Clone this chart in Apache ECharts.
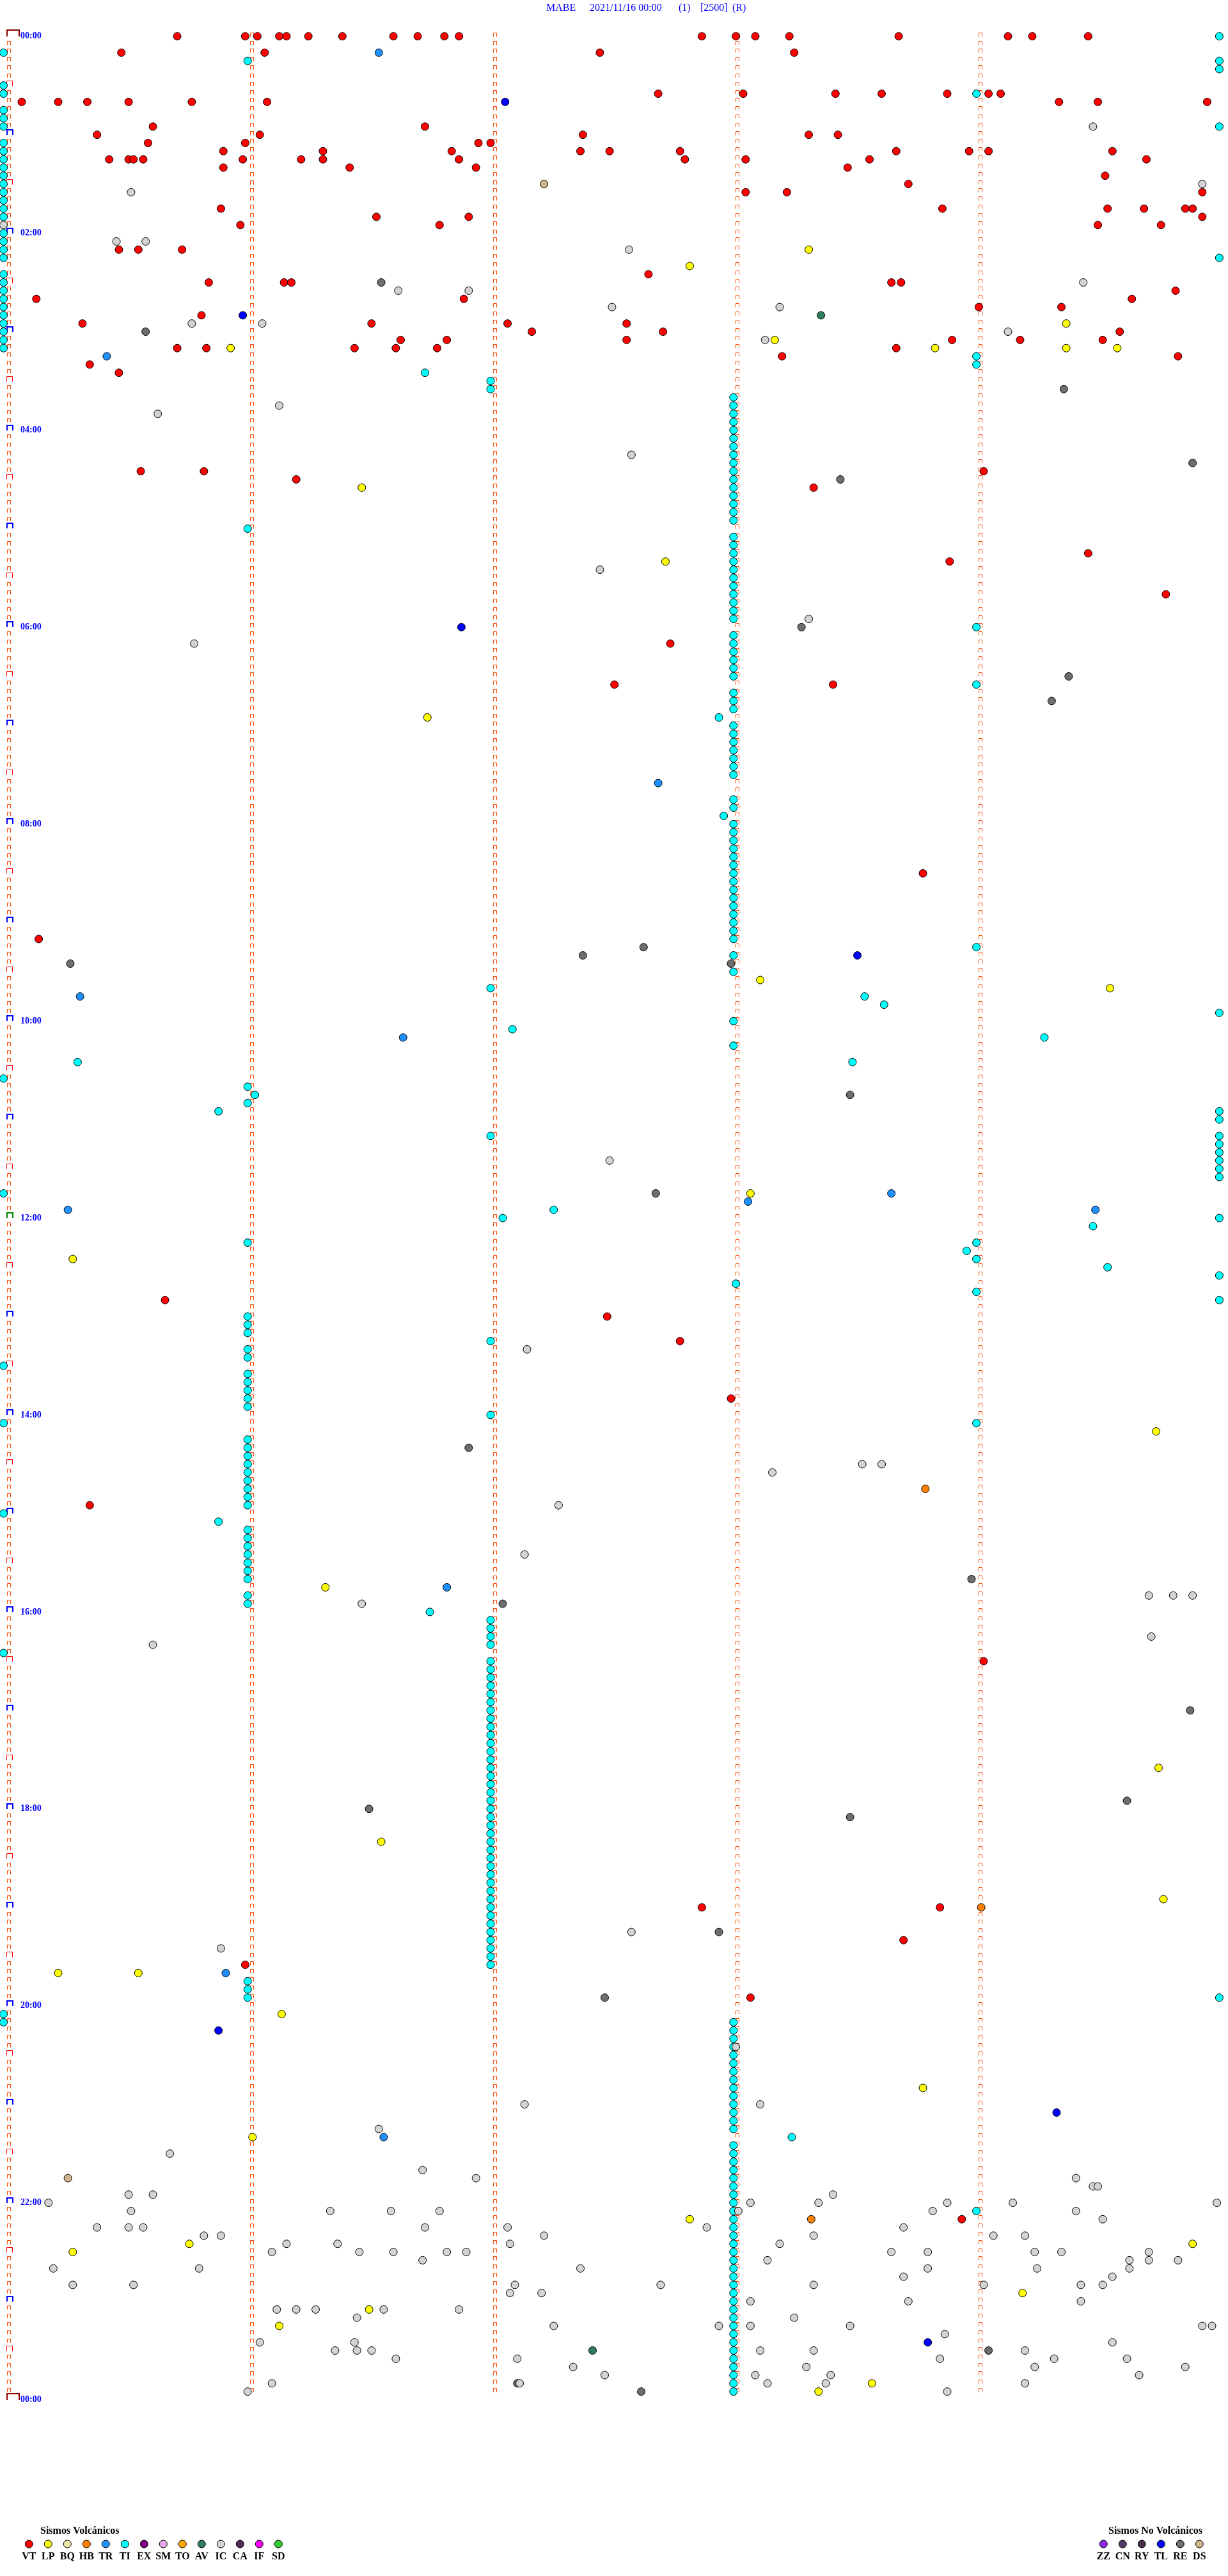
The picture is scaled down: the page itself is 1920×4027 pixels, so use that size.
<!DOCTYPE html>
<html><head><meta charset="utf-8">
<script src="https://cdn.jsdelivr.net/npm/echarts@6/dist/echarts.min.js"></script>
<style>html,body{margin:0;padding:0;background:#fff}#c{width:1920px;height:4027px}</style>
</head><body><div id="c"></div>
<script>
// Each event group: [row (5-minute line index from 00:00), minute offsets within the line...]
const VT = [
 [0,0.69,0.97,1.02,1.11,1.14,1.23,1.37,1.58,1.68,1.79,1.85,2.85,2.99,3.07,3.21,3.66,4.11,4.21,4.44],
 [2,0.46,1.05,2.43,3.23],[7,2.67,3.02,3.40,3.59,3.86,4.03,4.08],[8,0.05,0.20,0.32,0.49,0.75,1.06,4.32,4.48,4.93],
 [11,0.59,1.71],[12,0.36,1.03,2.36,3.29,3.41],[13,0.57,0.97,1.93,1.98],
 [14,0.88,1.29,1.82,2.35,2.47,2.76,3.65,3.95,4.03,4.54],[15,0.41,0.49,0.51,0.55,0.96,1.20,1.29,1.85,2.78,3.03,3.54,4.68],
 [16,0.88,1.40,1.92,3.45],[17,4.51],[18,3.70],[19,3.03,3.20,4.91],[21,0.87,3.84,4.52,4.67,4.84,4.87],
 [22,1.51,1.89,4.91],[23,0.95,1.77,4.48,4.74],[26,0.45,0.53,0.71],[29,2.63],[30,0.82,1.13,1.16,3.63,3.67],[31,4.80],
 [32,0.11,1.87,4.62],[33,3.99,4.33],[34,0.79],[35,0.30,1.49,2.05,2.54],[36,2.15,2.69,4.57],[37,1.61,1.80,2.54,3.88,4.16,4.50],
 [38,0.69,0.81,1.42,1.59,1.76,3.65],[39,3.18,4.81],[40,0.33],[41,0.45],[53,0.54,0.80,4.01],[54,1.18],[55,3.31],[63,4.44],
 [64,3.87],[68,4.76],[74,2.72],[79,2.49,3.39],[102,3.76],[110,0.12],[154,0.64],[156,2.46],[159,2.76],[166,2.97],[179,0.33],
 [198,4.01],[228,2.85,3.83],[232,3.68],[235,0.97],[239,3.05],[266,3.92]
];
const LP = [
 [26,3.29],[28,2.80],[35,4.35],[37,3.15],[38,0.91,3.81,4.35,4.56],[55,1.45],[64,2.70],[83,1.72],[115,3.09],[116,4.53],
 [141,3.05],[149,0.26],[170,4.72],[189,1.30],[211,4.73],[220,1.53],[227,4.75],[236,0.20,0.53],[241,1.12],[250,3.76],
 [256,1.00],[266,2.80],[269,0.74,4.87],[270,0.26],[275,4.17],[277,1.48],[279,1.11],[286,3.55],[287,3.33]
];
const HB = [[177,3.77],[228,4.00],[266,3.30]];
const TR = [[2,1.52],[39,0.40],[91,2.67],[117,0.29],[122,1.62],[141,3.63],[142,3.04],[143,0.24,4.47],[189,1.80],[236,0.89],[256,1.54]];
const AV = [[34,3.34],[282,2.40]];
const TL = [[8,2.04],[34,0.96],[72,1.86],[112,3.49],[243,0.86],[253,4.31],[281,3.78]];
const RE = [
 [30,1.53],[36,0.56],[43,4.34],[52,4.87],[54,3.42],[72,3.26],[78,4.36],[81,4.29],[111,2.61],[112,2.36],[113,0.25,2.97],
 [129,3.46],[141,2.66],[172,1.89],[188,3.96],[191,2.03],[204,4.86],[215,4.60],[216,1.48],[217,3.46],[231,2.92],[239,2.45],
 [282,4.03],[286,2.09],[287,2.60]
];
const DS = [[18,2.20],[261,0.24]];
const IC = [
 [11,4.46],[18,4.91],[19,0.50],[23,-0.025],[25,0.44,0.56],[26,2.55],[30,4.42],[31,1.60,1.89],[33,2.48,3.17],[35,0.75,1.04],
 [36,4.11],[37,3.11],[45,1.11],[46,0.61],[51,2.56],[65,2.43],[71,3.29],[74,0.76],[137,2.47],[160,2.13],[174,3.51,3.59],
 [175,3.14],[179,2.26],[185,2.12],[190,4.69,4.79,4.87],[191,1.45],[195,4.70],[196,0.59],[231,2.56],[233,0.87],[245,2.99],
 [252,2.12,3.09],[255,1.52],[258,0.66],[260,1.70],[261,1.92,4.39],[262,4.46,4.48],[263,0.49,0.59,3.39],
 [264,0.16,3.05,3.33,3.86,4.13,4.97],[265,0.50,1.32,1.57,1.77,3.00,3.80,4.39],[266,4.50],
 [267,0.36,0.49,0.55,1.71,2.05,2.87,3.68],[268,0.80,0.87,2.20,3.31,4.05,4.18],[269,1.14,1.35,2.06,3.17],
 [270,1.08,1.44,1.58,1.80,1.88,3.63,3.78,4.22,4.33,4.69],[271,1.70,3.12,4.61,4.69,4.81],[272,0.18,0.78,2.35,3.78,4.23,4.61],
 [273,3.68,4.54],[274,0.26,0.51,2.08,2.68,3.31,4.01,4.41,4.50],[275,2.06,2.19],[276,3.05,3.70,4.41],
 [277,1.10,1.18,1.26,1.54,1.85],[278,1.43,3.23],[279,2.24,2.92,3.05,3.46,4.91,4.95],[280,3.85],[281,1.03,1.42,4.54],
 [282,1.34,1.43,1.49,3.09,3.31,4.18],[283,1.59,2.09,3.83,4.30,4.60],[284,2.32,3.28,4.22,4.84],[285,2.45,3.07,3.38,4.65],
 [286,1.08,2.10,3.12,3.36,4.18],[287,0.98,3.86]
];
const TI = [
 [0,4.98],[2,-0.025],[3,0.98,4.98],[4,4.98],[6,-0.025],[7,-0.025,3.98],[9,-0.025],[10,-0.025],[11,-0.025,4.98],
 [13,-0.025],[14,-0.025],[15,-0.025],[16,-0.025],[17,-0.025],[18,-0.025],[19,-0.025],[20,-0.025],[21,-0.025],[22,-0.025],
 [24,-0.025],[25,-0.025],[26,-0.025],[27,-0.025,4.98],[29,-0.025],[30,-0.025],[31,-0.025],[32,-0.025],[33,-0.025],
 [34,-0.025],[35,-0.025],[36,-0.025],[37,-0.025],[38,-0.025],[39,3.98],[40,3.98],[41,1.71],[42,1.98],[43,1.98],
 [44,2.98],[45,2.98],[46,2.98],[47,2.98],[48,2.98],[49,2.98],[50,2.98],[51,2.98],[52,2.98],[53,2.98],[54,2.98],[55,2.98],
 [56,2.98],[57,2.98],[58,2.98],[59,2.98],[60,0.98],[61,2.98],[62,2.98],[63,2.98],[64,2.98],[65,2.98],[66,2.98],[67,2.98],
 [68,2.98],[69,2.98],[70,2.98],[71,2.98],[72,3.98],[73,2.98],[74,2.98],[75,2.98],[76,2.98],[77,2.98],[78,2.98],[79,3.98],
 [80,2.98],[81,2.98],[82,2.98],[83,2.92],[84,2.98],[85,2.98],[86,2.98],[87,2.98],[88,2.98],[89,2.98],[90,2.98],
 [93,2.98],[94,2.98],[95,2.94],[96,2.98],[97,2.98],[98,2.98],[99,2.98],[100,2.98],[101,2.98],[102,2.98],[103,2.98],
 [104,2.98],[105,2.98],[106,2.98],[107,2.98],[108,2.98],[109,2.98],[110,2.98],[111,3.98],[112,2.98],[114,2.98],
 [116,1.98],[117,3.52],[118,3.60],[119,4.98],[120,2.98],[121,2.07],[122,4.26],[123,2.98],[125,0.28,3.47],[127,-0.025],
 [128,0.98],[129,1.01],[130,0.98],[131,0.86,4.98],[132,4.98],[134,1.98,4.98],[135,4.98],[136,4.98],[137,4.98],[138,4.98],
 [139,4.98],[141,-0.025],[143,2.24],[144,2.03,4.98],[145,4.46],[147,0.98,3.98],[148,3.94],[149,3.98],[150,4.52],[151,4.98],
 [152,2.99],[153,3.98],[154,4.98],[156,0.98],[157,0.98],[158,0.98],[159,1.98],[160,0.98],[161,0.98],[162,-0.025],
 [163,0.98],[164,0.98],[165,0.98],[166,0.98],[167,0.98],[168,1.98],[169,-0.025,3.98],[171,0.98],[172,0.98],[173,0.98],
 [174,0.98],[175,0.98],[176,0.98],[177,0.98],[178,0.98],[179,0.98],[180,-0.025],[181,0.86],[182,0.98],[183,0.98],
 [184,0.98],[185,0.98],[186,0.98],[187,0.98],[188,0.98],[190,0.98],[191,0.98],[192,1.73],[193,1.98],[194,1.98],[195,1.98],
 [196,1.98],[197,-0.025],[198,1.98],[199,1.98],[200,1.98],[201,1.98],[202,1.98],[203,1.98],[204,1.98],[205,1.98],
 [206,1.98],[207,1.98],[208,1.98],[209,1.98],[210,1.98],[211,1.98],[212,1.98],[213,1.98],[214,1.98],[215,1.98],[216,1.98],
 [217,1.98],[218,1.98],[219,1.98],[220,1.98],[221,1.98],[222,1.98],[223,1.98],[224,1.98],[225,1.98],[226,1.98],[227,1.98],
 [228,1.98],[229,1.98],[230,1.98],[231,1.98],[232,1.98],[233,1.98],[234,1.98],[235,1.98],[237,0.98],[238,0.98],
 [239,0.98,4.98],[241,-0.025],[242,-0.025,2.98],[243,2.98],[244,2.98],[245,2.98],[246,2.98],[247,2.98],[248,2.98],
 [249,2.98],[250,2.98],[251,2.98],[252,2.98],[253,2.98],[254,2.98],[255,2.98],[256,3.22],[257,2.98],[258,2.98],[259,2.98],
 [260,2.98],[261,2.98],[262,2.98],[263,2.98],[264,2.98],[265,2.98,3.98],[266,2.98],[267,2.98],[268,2.98],[269,2.98],
 [270,2.98],[271,2.98],[272,2.98],[273,2.98],[274,2.98],[275,2.98],[276,2.98],[277,2.98],[278,2.98],[279,2.98],[280,2.98],
 [281,2.98],[282,2.98],[283,2.98],[284,2.98],[285,2.98],[286,2.98],[287,2.98]
];
const timeLabels = ['00:00','02:00','04:00','06:00','08:00','10:00','12:00','14:00','16:00','18:00','20:00','22:00','00:00'];
const titleParts = ['MABE','2021/11/16 00:00','(1)','[2500]','(R)'];
const volcTypes = ['VT','LP','BQ','HB','TR','TI','EX','SM','TO','AV','IC','CA','IF','SD'];
const noVolcTypes = ['ZZ','CN','RY','TL','RE','DS'];

const COLORS = {VT:'#FF0000',LP:'#FFFF00',BQ:'#EEE8AA',HB:'#FF8000',TR:'#1E90FF',TI:'#00FFFF',EX:'#800080',SM:'#E6A8E6',
 TO:'#FFA500',AV:'#2E7D5B',IC:'#D3D3D3',CA:'#4A2E4A',IF:'#FF00FF',SD:'#32CD32',ZZ:'#8A2BE2',CN:'#553A66',RY:'#4A2E4A',
 TL:'#0000FF',RE:'#6E6E6E',DS:'#D2B48C'};

function flat(groups){const out=[];groups.forEach(g=>{for(let i=1;i<g.length;i++)out.push([g[i],g[0]]);});return out;}

// decoration brackets (grid structure): kind 0 small orange, 1 half hour red, 2 hour blue, 3 noon green, 4 day ends
const brackets=[];
for(let r=0;r<288;r++){
  [1,2,3,4].forEach(m=>brackets.push([m,r,0]));
  if(r%6!==0) brackets.push([0,r,0]);
}
for(let r=6;r<288;r+=6){ brackets.push([0,r, r===144?3:(r%12===0?2:1)]); }
brackets.push([0,0,4]); brackets.push([0,288,4]);

function renderBracket(params, api){
  const p = api.coord([api.value(0), api.value(1)]);
  const k = api.value(2);
  const x = Math.round(p[0]), y = Math.round(p[1]);
  let pts, color, lw;
  if(k===0){ pts=[[x-3.5,y+0.5],[x-3.5,y-5.5],[x+1.5,y-5.5],[x+1.5,y+0.5]]; color='#FF4500'; lw=1; }
  else if(k===1){ pts=[[x-4.5,y+0.5],[x-4.5,y-7.5],[x+4.5,y-7.5],[x+4.5,y+0.5]]; color='#FF0000'; lw=1; }
  else if(k===4){ pts=[[x-4,y],[x-4,y-10],[x+15,y-10],[x+15,y]]; color='#8B0000'; lw=2; }
  else { pts=[[x-4,y],[x-4,y-8],[x+5,y-8],[x+5,y]]; color = k===3?'#008000':'#0000FF'; lw=2; }
  return {type:'polyline', shape:{points:pts}, style:{stroke:color, fill:null, lineWidth:lw}, silent:true};
}

const scatterDefs = [['TI',TI],['VT',VT],['LP',LP],['HB',HB],['TR',TR],['AV',AV],['TL',TL],['DS',DS],['RE',RE],['IC',IC]];
const series = [{type:'custom', name:'grid', data:brackets, renderItem:renderBracket, clip:false, silent:true, z:1}];
scatterDefs.forEach(([n,g])=>series.push({
  type:'scatter', name:n, data:flat(g), symbol:'circle', symbolSize:12, clip:false, silent:true, z:3,
  itemStyle:{color:COLORS[n], borderColor:'#000', borderWidth:1, opacity:1}
}));

const SERIF = '"Liberation Serif","Times New Roman",serif';
const graphic = [];
const titleX = [854, 922, 1061, 1095, 1145];
titleParts.forEach((t,i)=>graphic.push({type:'text', x:titleX[i], y:13,
  style:{text:t, fill:'#0000FF', font:'16px '+SERIF, align:'left', verticalAlign:'middle'}}));
function legendBlock(types, x0, titleX0, title){
  graphic.push({type:'text', x:titleX0, y:3957, style:{text:title, fill:'#000', font:'bold 16px '+SERIF, align:'left', verticalAlign:'middle'}});
  types.forEach((t,i)=>{
    const cx = x0 + 30*i;
    graphic.push({type:'circle', shape:{cx:cx, cy:3977, r:6}, style:{fill:COLORS[t], stroke:'#000', lineWidth:1}});
    graphic.push({type:'text', x:cx, y:3997, style:{text:t, fill:'#000', font:'bold 16px '+SERIF, align:'center', verticalAlign:'middle'}});
  });
}
legendBlock(volcTypes, 45.3, 63, 'Sismos Volcánicos');
legendBlock(noVolcTypes, 1725.3, 1733, 'Sismos No Volcánicos');

const chart = echarts.init(document.getElementById('c'), null, {renderer:'canvas'});
chart.setOption({
  animation:false,
  backgroundColor:'#FFFFFF',
  grid:{left:15, right:6, top:56.7, bottom:275.5, containLabel:false},
  xAxis:{type:'value', min:0, max:5, show:false},
  yAxis:{type:'value', min:0, max:288, interval:24, inverse:true,
    axisLine:{show:false}, axisTick:{show:false}, splitLine:{show:false},
    axisLabel:{inside:true, margin:17, showMinLabel:true, showMaxLabel:true, hideOverlap:false,
      formatter:(v)=>timeLabels[Math.round(v/24)], color:'#0000FF', fontFamily:SERIF, fontWeight:'bold', fontSize:14,
      align:'left', verticalAlign:'middle', padding:[0,0,8,0]}},
  graphic:graphic,
  series:series
});
</script></body></html>
